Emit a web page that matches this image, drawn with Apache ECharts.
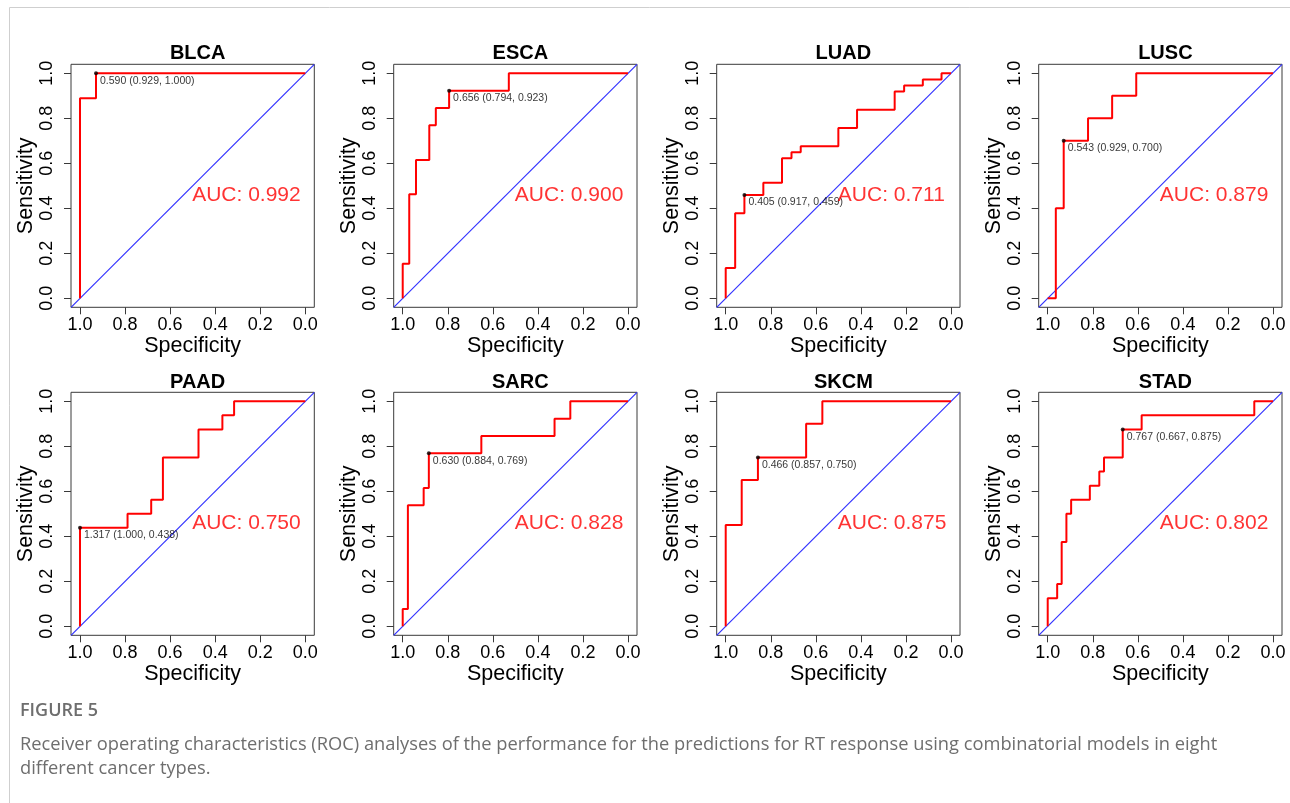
<!DOCTYPE html>
<html><head><meta charset="utf-8">
<script src="https://cdn.jsdelivr.net/npm/echarts@6/dist/echarts.min.js"></script>
<style>html,body{margin:0;padding:0;background:#fff;}#c{width:1290px;height:803px;}</style>
</head><body><div id="c"></div>
<script>
// ---------- data ----------
const panelNames = ['BLCA', 'ESCA', 'LUAD', 'LUSC', 'PAAD', 'SARC', 'SKCM', 'STAD'];
const aucValues = [0.992, 0.900, 0.711, 0.879, 0.750, 0.828, 0.875, 0.802];
const thresholdCutoffs = ['0.590', '0.656', '0.405', '0.543', '1.317', '0.630', '0.466', '0.767'];
const thresholdSpec = [0.929, 0.794, 0.917, 0.929, 1.000, 0.884, 0.857, 0.667];
const thresholdSens = [1.000, 0.923, 0.459, 0.700, 0.438, 0.769, 0.750, 0.875];
const tickValues = [0, 0.2, 0.4, 0.6, 0.8, 1.0];

const blcaSpec = [1, 1, 0.929, 0.929, 0];
const blcaSens = [0, 0.889, 0.889, 1, 1];
const escaSpec = [1, 1, 0.971, 0.971, 0.941, 0.941, 0.882, 0.882, 0.853, 0.853, 0.794, 0.794, 0.529, 0.529, 0];
const escaSens = [0, 0.154, 0.154, 0.462, 0.462, 0.615, 0.615, 0.769, 0.769, 0.846, 0.846, 0.923, 0.923, 1, 1];
const luadSpec = [1, 1, 0.958, 0.958, 0.917, 0.917, 0.833, 0.833, 0.75, 0.75, 0.708, 0.708, 0.667, 0.667, 0.5, 0.5, 0.417, 0.417, 0.25, 0.25, 0.208, 0.208, 0.125, 0.125, 0.042, 0.042, 0];
const luadSens = [0, 0.135, 0.135, 0.378, 0.378, 0.459, 0.459, 0.514, 0.514, 0.622, 0.622, 0.649, 0.649, 0.676, 0.676, 0.757, 0.757, 0.838, 0.838, 0.919, 0.919, 0.946, 0.946, 0.973, 0.973, 1, 1];
const luscSpec = [1, 0.964, 0.964, 0.929, 0.929, 0.821, 0.821, 0.714, 0.714, 0.607, 0.607, 0];
const luscSens = [0, 0, 0.4, 0.4, 0.7, 0.7, 0.8, 0.8, 0.9, 0.9, 1, 1];
const paadSpec = [1, 1, 0.789, 0.789, 0.684, 0.684, 0.632, 0.632, 0.474, 0.474, 0.368, 0.368, 0.316, 0.316, 0];
const paadSens = [0, 0.438, 0.438, 0.5, 0.5, 0.563, 0.563, 0.75, 0.75, 0.875, 0.875, 0.938, 0.938, 1, 1];
const sarcSpec = [1, 1, 0.977, 0.977, 0.907, 0.907, 0.884, 0.884, 0.651, 0.651, 0.326, 0.326, 0.256, 0.256, 0];
const sarcSens = [0, 0.077, 0.077, 0.538, 0.538, 0.615, 0.615, 0.769, 0.769, 0.846, 0.846, 0.923, 0.923, 1, 1];
const skcmSpec = [1, 1, 0.929, 0.929, 0.857, 0.857, 0.643, 0.643, 0.571, 0.571, 0];
const skcmSens = [0, 0.45, 0.45, 0.65, 0.65, 0.75, 0.75, 0.9, 0.9, 1, 1];
const stadSpec = [1, 1, 0.958, 0.958, 0.938, 0.938, 0.917, 0.917, 0.896, 0.896, 0.813, 0.813, 0.771, 0.771, 0.75, 0.75, 0.667, 0.667, 0.583, 0.583, 0.083, 0.083, 0];
const stadSens = [0, 0.125, 0.125, 0.188, 0.188, 0.375, 0.375, 0.5, 0.5, 0.563, 0.563, 0.625, 0.625, 0.688, 0.688, 0.75, 0.75, 0.875, 0.875, 0.938, 0.938, 1, 1];

const curveSpec = [blcaSpec, escaSpec, luadSpec, luscSpec, paadSpec, sarcSpec, skcmSpec, stadSpec];
const curveSens = [blcaSens, escaSens, luadSens, luscSens, paadSens, sarcSens, skcmSens, stadSens];

const captionTitle = 'FIGURE 5';
const captionLines = [
  'Receiver operating characteristics (ROC) analyses of the performance for the predictions for RT response using combinatorial models in eight',
  'different cancer types.'
];

// ---------- layout ----------
const FONT = '"Liberation Sans", Arial, Helvetica, sans-serif';
const colLeft = [71, 393.7, 716.7, 1038.7];
const rowTop = [64.3, 392.3];
const boxW = 243.3, boxH = 243;
const axMin = -0.04, axMax = 1.04;

const grids = [], xAxes = [], yAxes = [], series = [], titles = [];
panelNames.forEach((name, i) => {
  const c = i % 4, r = Math.floor(i / 4);
  grids.push({
    left: colLeft[c], top: rowTop[r], width: boxW, height: boxH,
    show: true, borderColor: '#3a3a3a', borderWidth: 1, backgroundColor: 'transparent',
    containLabel: false
  });
  xAxes.push({
    gridIndex: i, type: 'value', min: axMin, max: axMax, inverse: true, position: 'bottom',
    name: 'Specificity', nameLocation: 'middle', nameGap: 24,
    nameTextStyle: { fontFamily: FONT, fontSize: 21.5, color: '#000' },
    axisLine: { show: false, onZero: false },
    axisTick: { show: true, length: 7, customValues: tickValues, lineStyle: { color: '#3a3a3a', width: 1 } },
    axisLabel: { show: true, customValues: tickValues, margin: 9, fontFamily: FONT, fontSize: 18, color: '#000',
      formatter: v => Number(v).toFixed(1) },
    splitLine: { show: false }
  });
  yAxes.push({
    gridIndex: i, type: 'value', min: axMin, max: axMax, position: 'left',
    name: 'Sensitivity', nameLocation: 'middle', nameGap: 26,
    nameTextStyle: { fontFamily: FONT, fontSize: 21.5, color: '#000' },
    axisLine: { show: false, onZero: false },
    axisTick: { show: true, length: 7, customValues: tickValues, lineStyle: { color: '#3a3a3a', width: 1 } },
    axisLabel: { show: true, customValues: tickValues, rotate: 90, margin: 15, fontFamily: FONT, fontSize: 18, color: '#000',
      formatter: v => Number(v).toFixed(1) },
    splitLine: { show: false }
  });
  titles.push({
    text: name, left: colLeft[c] + boxW / 2, top: r === 0 ? 38 : 367, textAlign: 'center',
    textStyle: { fontFamily: FONT, fontSize: 20, fontWeight: 'bold', color: '#000' }
  });
  // chance diagonal
  series.push({
    type: 'line', xAxisIndex: i, yAxisIndex: i, symbol: 'none', silent: true,
    data: [[axMax, axMin], [axMin, axMax]],
    lineStyle: { color: '#3333ff', width: 1.2 }, z: 2
  });
  // ROC curve
  series.push({
    type: 'line', xAxisIndex: i, yAxisIndex: i, symbol: 'none', silent: true,
    data: curveSpec[i].map((s, k) => [s, curveSens[i][k]]),
    lineStyle: { color: '#ff0000', width: 2 }, z: 3
  });
  // best threshold point
  series.push({
    type: 'scatter', xAxisIndex: i, yAxisIndex: i, silent: true,
    data: [[thresholdSpec[i], thresholdSens[i]]],
    symbol: 'circle', symbolSize: 4, itemStyle: { color: '#000' }, z: 4,
    label: {
      show: true, position: [6, 4], align: 'left', verticalAlign: 'top',
      fontFamily: FONT, fontSize: 10.5, color: '#000',
      formatter: () => thresholdCutoffs[i] + ' (' + thresholdSpec[i].toFixed(3) + ', ' + thresholdSens[i].toFixed(3) + ')'
    }
  });
  // AUC text anchored at (0.5, 0.5)
  series.push({
    type: 'scatter', xAxisIndex: i, yAxisIndex: i, silent: true,
    data: [[0.5, 0.5]], symbol: 'circle', symbolSize: 1,
    itemStyle: { color: 'rgba(0,0,0,0)' }, z: 5,
    label: {
      show: true, position: [0, -1], align: 'left', verticalAlign: 'top',
      fontFamily: FONT, fontSize: 21, color: '#ff0000',
      formatter: () => 'AUC: ' + aucValues[i].toFixed(3)
    }
  });
});

const CAP_FONT = '"Open Sans", Lato, sans-serif';
const graphic = [
  { type: 'line', shape: { x1: 9.5, y1: 7.5, x2: 1290, y2: 7.5 }, style: { stroke: '#cfcfcf', lineWidth: 1 }, silent: true },
  { type: 'line', shape: { x1: 9.5, y1: 7.5, x2: 9.5, y2: 803 }, style: { stroke: '#cfcfcf', lineWidth: 1 }, silent: true },
  { type: 'text', left: 20, top: 702, style: { text: captionTitle, font: '600 18px ' + CAP_FONT, fill: '#6e6e6e' } },
  { type: 'text', left: 20, top: 736, style: { text: captionLines[0], font: '18.3px ' + CAP_FONT, fill: '#6e6e6e' } },
  { type: 'text', left: 20, top: 760, style: { text: captionLines[1], font: '18.3px ' + CAP_FONT, fill: '#6e6e6e' } }
];

const chart = echarts.init(document.getElementById('c'), null, { renderer: 'canvas' });
chart.setOption({
  animation: false,
  backgroundColor: '#fff',
  title: titles,
  grid: grids,
  xAxis: xAxes,
  yAxis: yAxes,
  series: series,
  graphic: graphic
});
</script>
</body></html>
